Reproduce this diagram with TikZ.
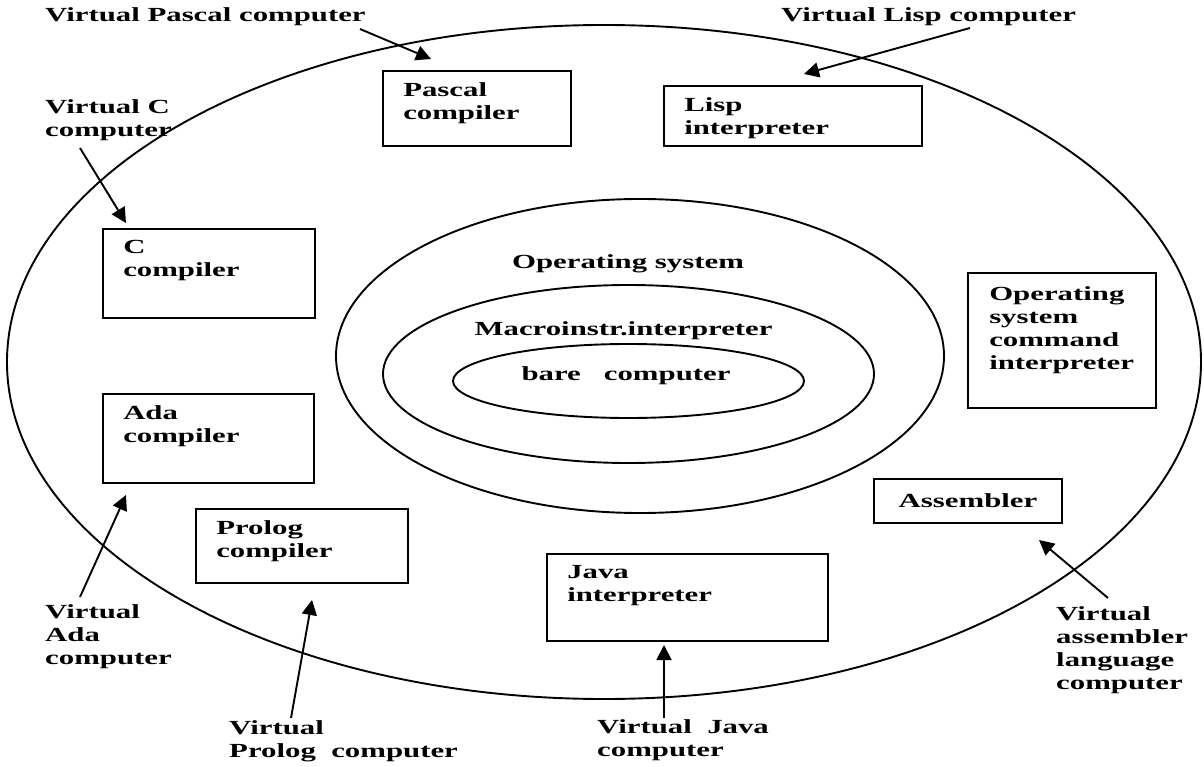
\documentclass[tikz,border=0pt]{standalone}
\usepackage{fontspec}
\setmainfont{Liberation Serif}[FakeStretch=1.54]
\usetikzlibrary{arrows.meta, positioning}

\begin{document}
\begin{tikzpicture}[x=1pt, y=-1pt,
    font=\fontsize{20}{23}\selectfont\bfseries,
    riquadro/.style={draw, line width=1.9pt, inner sep=0},
    testo/.style={inner sep=0, align=left, anchor=north west},
    freccia/.style={-{Triangle[length=15pt, width=15pt]}, line width=1.9pt}]
    % Parametri
    \pgfmathsetmacro{\dx}{21}
    \pgfmathsetmacro{\dy}{12.5}
    \useasboundingbox (0,0) rectangle (1204,767);
    % Ellissi
    \draw[line width=1.9pt] (604,362) ellipse [x radius=597, y radius=337];
    \draw[line width=1.9pt] (640,356) ellipse [x radius=304, y radius=157];
    \draw[line width=1.9pt] (628.5,374) ellipse [x radius=245.5, y radius=89];
    \draw[line width=1.9pt] (628.5,381) ellipse [x radius=175.5, y radius=37];
    \node[inner sep=0, anchor=base] (os) at (628,269) {Operating system};
    \node[inner sep=0, anchor=base] (macro) at (623.5,335) {Macroinstr.interpreter};
    \node[inner sep=0, anchor=base] (bare) at (626,380) {bare~~~computer};

    % Riquadri
    \node[riquadro, minimum width=188, minimum height=75] (pascal) at (477,108.5) {};
    \node[testo] (pascal-t) at ([shift={(\dx,\dy)}]pascal.north west) {Pascal\\compiler};
    \node[riquadro, minimum width=258, minimum height=60] (lisp) at (793,116) {};
    \node[testo] (lisp-t) at ([shift={(\dx,\dy)}]lisp.north west) {Lisp\\interpreter};
    \node[riquadro, minimum width=212, minimum height=89] (cc) at (209,273.5) {};
    \node[testo] (cc-t) at ([shift={(\dx,\dy)}]cc.north west) {C\\compiler};
    \node[riquadro, minimum width=211, minimum height=89] (ada) at (208.5,438.5) {};
    \node[testo] (ada-t) at ([shift={(\dx,\dy)}]ada.north west) {Ada\\compiler};
    \node[riquadro, minimum width=212, minimum height=74] (prolog) at (302,546) {};
    \node[testo] (prolog-t) at ([shift={(\dx,\dy)}]prolog.north west) {Prolog\\compiler};
    \node[riquadro, minimum width=281, minimum height=87] (java) at (687.5,597.5) {};
    \node[testo] (java-t) at ([shift={(\dx,\dy)}]java.north west) {Java\\interpreter};
    \node[riquadro, minimum width=188, minimum height=135] (oscmd) at (1062,340.5) {};
    \node[testo] (oscmd-t) at ([shift={(22,14.5)}]oscmd.north west) {Operating\\system\\command\\interpreter};
    \node[riquadro, minimum width=188, minimum height=44] (asm) at (968,501) {Assembler};

    % Etichette
    \node[inner sep=0, anchor=base west] (vpascal) at (45,22) {Virtual Pascal computer};
    \node[inner sep=0, anchor=base west] (vlisp) at (781,22) {Virtual Lisp computer};
    \node[testo] (vc) at (45,99.5) {Virtual C\\computer};
    \node[testo] (vada) at (45,604.5) {Virtual\\Ada\\computer};
    \node[testo] (vprolog) at (229,720.5) {Virtual\\Prolog~~computer};
    \node[testo] (vjava) at (597,719.5) {Virtual~~Java\\computer};
    \node[testo] (vasm) at (1056,606.5) {Virtual\\assembler\\language\\computer};

    % Frecce
    \coordinate (vpascal-a) at (360,29);   \coordinate (pascal-a) at (431,59);
    \coordinate (vlisp-a) at (970,28);     \coordinate (lisp-a) at (804,74);
    \coordinate (vc-a) at (80,148);        \coordinate (cc-a) at (126,223);
    \coordinate (vada-a) at (80,597);      \coordinate (ada-a) at (126,495);
    \coordinate (vprolog-a) at (291,718);  \coordinate (prolog-a) at (312,600);
    \coordinate (vjava-a) at (664,718);    \coordinate (java-a) at (664,645);
    \coordinate (vasm-a) at (1108,598);    \coordinate (asm-a) at (1039,540);
    \foreach \da/\a in {vpascal-a/pascal-a, vlisp-a/lisp-a, vc-a/cc-a, vada-a/ada-a,
        vprolog-a/prolog-a, vjava-a/java-a, vasm-a/asm-a} {
        \draw[freccia] (\da) -- (\a);
    };
\end{tikzpicture}
\end{document}
